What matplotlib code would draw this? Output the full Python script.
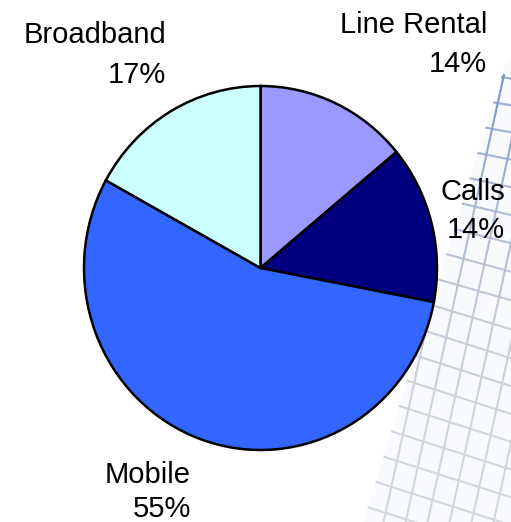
import matplotlib.pyplot as plt
import numpy as np
from matplotlib.collections import LineCollection
from matplotlib.colors import LinearSegmentedColormap

# Spend split
categories = ['Line Rental', 'Calls', 'Mobile', 'Broadband']
shares = [14, 14, 55, 17]
colors = ['#9999FF', '#000080', '#3366FF', '#CCFFFF']

W, H = 511, 522
fig = plt.figure(figsize=(W / 100, H / 100), dpi=100)

# background layer in pixel coordinates (y down)
bg = fig.add_axes([0, 0, 1, 1])
bg.set_xlim(0, W)
bg.set_ylim(H, 0)
bg.axis('off')

# decorative graph-paper sheet behind the pie
grid_cmap = LinearSegmentedColormap.from_list('sheet', ['#6a8ac2', '#9fb0d0', '#c4c9d8', '#d2d5de'])


def edge_x(y):
    return 501 - 0.31 * (y - 77)


def draw_fading(xs, ys):
    pts = np.column_stack([xs, ys])
    segs = np.stack([pts[:-1], pts[1:]], axis=1)
    t = np.clip((ys[:-1] - 60) / 380, 0, 1)
    lc = LineCollection(segs, colors=grid_cmap(t), linewidths=1.5, zorder=1)
    bg.add_collection(lc)


# faint sheet tint
ys_fill = np.linspace(60, H, 50)
bg.fill_betweenx(ys_fill, edge_x(ys_fill), W, color='#f8fafd', zorder=0, lw=0)

# rows
for y0 in np.arange(77, H + 10, 25.3):
    slope = 0.15 + 0.17 * min(1, (y0 - 77) / 250)
    xs = np.linspace(edge_x(y0), W, 40)
    ys = y0 + slope * (xs - xs[0])
    draw_fading(xs, ys)

# columns
for xb in np.arange(405.6 - 22 * 3, 405.6 + 22 * 8, 22):
    ys = np.linspace(40, H, 100)
    xs = xb - 0.22 * (ys - H)
    keep = xs >= edge_x(ys) + 2
    if keep.sum() > 1:
        draw_fading(xs[keep], ys[keep])

# pie (slightly taller than wide)
left, right, top, bottom = 84, 437, 86, 450
pax = fig.add_axes([left / W, 1 - bottom / H, (right - left) / W, (bottom - top) / H])
wedges, _ = pax.pie(shares, colors=colors, startangle=90, counterclock=False,
                    wedgeprops=dict(edgecolor='black', linewidth=1.8))
for w in wedges:
    w.set_clip_on(False)
pax.set_xlim(-1, 1)
pax.set_ylim(-1, 1)
pax.set_aspect('auto')
pax.axis('off')

# labels: name and percentage, right aligned
label_pos = {
    'Line Rental': (487, 33, 72),
    'Calls': (505, 200, 238),
    'Mobile': (191, 483, 517),
    'Broadband': (166, 43, 83),
}
font = dict(family='Liberation Sans', fontsize=21, color='black')
for name, share in zip(categories, shares):
    x, y1, y2 = label_pos[name]
    bg.text(x, y1, name, ha='right', va='baseline', zorder=5, **font)
    bg.text(x, y2, f'{share}%', ha='right', va='baseline', zorder=5, **font)

fig.savefig('out.png', dpi=100)
